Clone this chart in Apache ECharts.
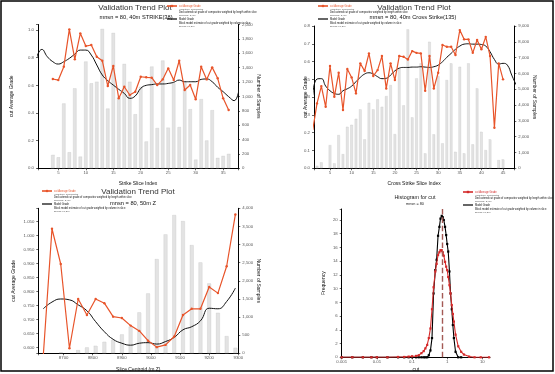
<!DOCTYPE html>
<html><head><meta charset="utf-8">
<script src="https://cdn.jsdelivr.net/npm/echarts@6/dist/echarts.min.js"></script>
<style>html,body{margin:0;padding:0;background:#fff}#c{width:555px;height:374px}</style>
</head><body><div id="c"></div><script>
// ---------- Panel 1: Strike slices ----------
const p1BarIdx = [4,5,6,7,8,9,10,11,12,13,14,15,16,17,18,19,20,21,22,23,24,25,26,27,28,29,30,31,32,33,34,35,36];
const p1Bars = [188,154,903,224,1113,164,1486,1183,1205,1940,832,1884,995,1453,1205,753,1135,374,1416,561,1500,566,1183,575,1205,823,122,963,388,809,146,174,202];
const p1Avg = [0.646,0.638,0.735,1.005,0.788,0.976,0.884,0.892,0.807,0.778,0.595,0.74,0.506,0.59,0.53,0.554,0.662,0.658,0.655,0.602,0.643,0.723,0.638,0.778,0.566,0.602,0.499,0.735,0.643,0.73,0.651,0.506,0.422];
const p1TrendIdx = [1,2,3,4,5,6,7,8,9,10,11,12,13,14,15,16,17,18,19,20,21,22,23,24,25,26,27,28,29,30,31,32,33,34,35,36,37,38];
const p1Trend = [0.795,0.86,0.807,0.771,0.754,0.771,0.795,0.826,0.855,0.855,0.819,0.747,0.675,0.634,0.602,0.571,0.542,0.506,0.523,0.578,0.6,0.605,0.61,0.61,0.614,0.622,0.638,0.626,0.626,0.626,0.643,0.646,0.626,0.586,0.554,0.518,0.489,0.602];

// ---------- Panel 2: Cross strike slices ----------
const p2BarIdx = [2,3,5,6,7,8,9,10,11,12,13,14,15,16,17,18,19,20,21,22,23,24,25,26,27,28,29,30,31,32,33,34,35,36,37,38,39,40,41,42,44,45];
const p2Bars = [164,380,1474,316,2106,904,2631,2758,3137,3731,1834,4149,3731,4364,3896,4573,5268,2169,6325,3985,8791,3226,5692,6641,949,8007,2150,5838,1581,5585,6641,1050,6426,949,6641,1518,5060,2315,1157,1834,525,569];
const p2AvgIdx = [1,2,3,4,5,6,7,8,9,10,11,12,13,14,15,16,17,18,19,20,21,22,23,24,25,26,27,28,29,30,31,32,33,34,35,36,37,38,39,40,41,42,43,44,45];
const p2Avg = [0.215,0.365,0.462,0.346,0.575,0.402,0.537,0.328,0.558,0.511,0.421,0.59,0.547,0.646,0.519,0.552,0.631,0.449,0.59,0.496,0.631,0.627,0.612,0.659,0.649,0.646,0.436,0.631,0.449,0.537,0.693,0.683,0.683,0.637,0.777,0.725,0.725,0.649,0.721,0.669,0.739,0.631,0.228,0.59,0.5];
const p2TrendIdx = [1,2,3,4,5,6,7,8,9,10,11,12,13,14,15,16,17,18,19,20,21,22,23,24,25,26,27,28,29,30,31,32,33,34,35,36,37,38,39,40,41,42,43,44,45,46,47,48];
const p2Trend = [0.41,0.502,0.504,0.462,0.436,0.421,0.416,0.436,0.447,0.462,0.487,0.511,0.53,0.537,0.53,0.515,0.504,0.506,0.524,0.548,0.563,0.567,0.567,0.569,0.569,0.571,0.569,0.567,0.571,0.58,0.599,0.624,0.646,0.669,0.687,0.698,0.7,0.698,0.698,0.696,0.687,0.655,0.612,0.586,0.59,0.58,0.524,0.47];

// ---------- Panel 3: Z slices ----------
const p3X = [8630,8660,8690,8720,8750,8780,8810,8840,8870,8900,8930,8960,8990,9020,9050,9080,9110,9140,9170,9200,9230,9260,9290];
const p3Avg = [0.57,1.025,0.899,0.598,0.774,0.717,0.774,0.759,0.711,0.706,0.679,0.66,0.625,0.602,0.61,0.64,0.717,0.739,0.739,0.817,0.795,0.891,1.076];
const p3Trend = [0.739,0.763,0.774,0.771,0.753,0.732,0.693,0.657,0.63,0.616,0.609,0.616,0.618,0.613,0.622,0.637,0.664,0.675,0.696,0.741,0.739,0.765,0.813];
const p3BarX = [8690,8750,8780,8810,8840,8870,8900,8930,8960,8990,9020,9050,9080,9110,9140,9170,9200,9230,9260,9290];
const p3Bars = [28,91,166,210,320,367,524,734,1131,1655,2601,3283,3815,3650,2988,2510,1931,1120,477,155];

// ---------- Panel 4: Histogram ----------
const histX = [0.001,0.002,0.004,0.007,0.01,0.02,0.04,0.06,0.08,0.1,0.13,0.155,0.185,0.215,0.24,0.27,0.3,0.334,0.37,0.41,0.46,0.5,0.55,0.6,0.645,0.7,0.75,0.8,0.87,0.935,1.0,1.07,1.16,1.245,1.35,1.45,1.55,1.73,2.06,2.5,3.0,4.2,6,9,15.5];
const histRed = [0,0,0,0,0,0,0.05,0.05,0.1,0.15,0.2,0.3,0.6,0.9,1.3,1.8,2.8,4.2,7,10.2,12.5,13.6,14.9,15.3,15.6,15.6,15.3,14.8,13.9,13.2,12.7,11.7,10.5,9.3,7.6,6.3,5.2,3.3,1.6,0.8,0.4,0.1,0,0,0];
const histBlack = [0,0,0,0,0,0,0,0,0,0,0,0,0,0,0,0,0.3,1.0,2.8,9.3,12.7,14.2,17.7,19,20.2,20.6,20.4,20,19,17.8,16.5,15.4,12.5,9.3,7,4.7,2.8,0.8,0,0];
const histMean = 0.72;

const FONT = 'Liberation Sans';
const RED = '#e8542a';
const HRED = '#d42a2a';

function pairs(xs, ys){ return ys.map((v,i)=>[xs[i], v]); }
function fmtStep(step, dec){
  return function(v){
    const k = v/step;
    if (Math.abs(k - Math.round(k)) > 1e-6) return '';
    return dec === null ? String(Math.round(v)) : v.toFixed(dec);
  };
}
const lbl = {fontSize:4.3, color:'#555', fontFamily:FONT};
const nameSt = {fontSize:5, color:'#111', fontFamily:FONT};
const axLine = {show:true, lineStyle:{color:'#000', width:1}};
const tick = {show:true, length:2, lineStyle:{color:'#000', width:0.6}};

function xVal(grid, min, max, step, name, gap){
  return {type:'value', gridIndex:grid, min:min, max:max, minInterval:step, maxInterval:step, splitNumber:8,
    axisLine:axLine, axisTick:tick, splitLine:{show:false},
    axisLabel:Object.assign({margin:3, formatter:fmtStep(step,null)}, lbl),
    name:name, nameLocation:'middle', nameGap:gap, nameTextStyle:nameSt, nameMoveOverlap:false};
}
function yLeft(grid, min, max, step, dec, name, gap){
  return {type:'value', gridIndex:grid, position:'left', min:min, max:max, minInterval:step, maxInterval:step, splitNumber:10,
    axisLine:axLine, axisTick:tick, splitLine:{show:false},
    axisLabel:Object.assign({margin:4, formatter:fmtStep(step,dec)}, lbl),
    name:name, nameLocation:'middle', nameGap:gap, nameTextStyle:nameSt, nameMoveOverlap:false};
}
function yRight(grid, max, step, name, gap){
  return {type:'value', gridIndex:grid, position:'right', min:0, max:max, interval:step,
    axisLine:axLine, axisTick:tick, splitLine:{show:false},
    axisLabel:Object.assign({margin:4}, lbl),
    name:name, nameLocation:'middle', nameGap:gap, nameTextStyle:nameSt, nameRotate:-90, nameMoveOverlap:false};
}
function barSeries(xi, yi, xs, ys, w){
  return {type:'bar', xAxisIndex:xi, yAxisIndex:yi, data:pairs(xs, ys), barWidth:w, silent:true,
    itemStyle:{color:'#e3e3e3', borderColor:'#b9b9b9', borderWidth:0.5, borderType:'dotted'}, z:1};
}
function avgSeries(xi, yi, xs, ys){
  return {type:'line', xAxisIndex:xi, yAxisIndex:yi, data:pairs(xs, ys), symbol:'circle', symbolSize:2.4,
    lineStyle:{color:RED, width:1.2}, itemStyle:{color:RED}, z:4};
}
function trendSeries(xi, yi, xs, ys){
  return {type:'line', xAxisIndex:xi, yAxisIndex:yi, data:pairs(xs, ys), symbol:'none', smooth:0.5,
    lineStyle:{color:'#111', width:1}, z:3};
}

function txt(x, y, s, size, color, align){
  return {type:'text', x:x, y:y, silent:true, style:{text:s, fontSize:size, fontFamily:FONT, fill:color||'#222', align:align||'left', verticalAlign:'middle'}};
}
function legend(x, y, lineColor, sq){
  const el = [];
  el.push({type:'line', silent:true, shape:{x1:x, y1:y, x2:x+10, y2:y}, style:{stroke:lineColor, lineWidth:1.6}});
  if (sq) el.push({type:'rect', silent:true, shape:{x:x+3.8, y:y-1.2, width:2.4, height:2.4}, style:{fill:lineColor}});
  else el.push({type:'circle', silent:true, shape:{cx:x+5, cy:y, r:1.3}, style:{fill:lineColor}});
  el.push(txt(x+12, y, 'cut Average Grade', 2.6, lineColor));
  el.push(txt(x+12, y+3.5, 'Validation: Composites', 2.4, '#555'));
  el.push(txt(x+12, y+6.5, 'Declustered cut grade of composites weighted by length within slice', 2.6, '#111'));
  el.push(txt(x+12, y+9.5, 'Samples: 2,416', 2.4, '#555'));
  el.push({type:'line', silent:true, shape:{x1:x, y1:y+13, x2:x+10, y2:y+13}, style:{stroke:'#000', lineWidth:1.2}});
  el.push(txt(x+12, y+13, 'Model Grade', 2.6, '#111'));
  el.push(txt(x+12, y+17, 'Block model estimate of cut grade weighted by volume in slice', 2.6, '#111'));
  el.push(txt(x+12, y+20.5, 'Blocks: 10,240', 2.4, '#555'));
  return el;
}

const grids = [
  {left:38, top:24.5, width:200, height:143.8},
  {left:314, top:26, width:200.3, height:142.3},
  {left:38.3, top:208.3, width:200, height:145},
  {left:341.7, top:209, width:148.3, height:148.3}
];

const option = {
  animation:false,
  backgroundColor:'#fff',
  grid:grids,
  xAxis:[
    xVal(0, 1.3, 37.7, 5, 'Strike Slice Index', 13),
    xVal(1, 1.3, 47.6, 5, 'Cross Strike Slice Index', 13),
    xVal(2, 8613, 9300, 100, 'Slice Centroid (m Z)', 14),
    {type:'log', gridIndex:3, logBase:10, min:0.001, max:16.5,
     axisLine:axLine, axisTick:tick, splitLine:{show:false}, minorTick:{show:false},
     axisLabel:Object.assign({margin:3, showMaxLabel:false, formatter:function(v){
       const l = Math.log10(v); if (Math.abs(l-Math.round(l))>1e-6) return ''; return String(v);}}, lbl),
     name:'cut', nameLocation:'middle', nameGap:10, nameTextStyle:nameSt, nameMoveOverlap:false}
  ],
  yAxis:[
    yLeft(0, 0, 1.04, 0.2, 1, 'cut Average Grade', 24),
    yRight(0, 2000, 200, 'Number of Samples', 18),
    yLeft(1, 0, 0.8, 0.1, 1, 'cut Average Grade', 6),
    yRight(1, 9000, 1000, 'Number of Samples', 18),
    yLeft(2, 0.58, 1.098, 0.05, 3, 'cut Average Grade', 22),
    yRight(2, 4000, 500, 'Number of Samples', 18),
    yLeft(3, 0, 21.6, 2, null, 'Frequency', 16)
  ],
  series:[
    barSeries(0, 1, p1BarIdx, p1Bars, 3.6),
    trendSeries(0, 0, p1TrendIdx, p1Trend),
    avgSeries(0, 0, p1BarIdx, p1Avg),
    barSeries(1, 3, p2BarIdx, p2Bars, 2.8),
    trendSeries(1, 2, p2TrendIdx, p2Trend),
    avgSeries(1, 2, p2AvgIdx, p2Avg),
    barSeries(2, 5, p3BarX, p3Bars, 4),
    trendSeries(2, 4, p3X, p3Trend),
    avgSeries(2, 4, p3X, p3Avg),
    {type:'line', xAxisIndex:3, yAxisIndex:6, data:pairs(histX, histBlack), symbol:'rect', symbolSize:2.2,
     lineStyle:{color:'#000', width:1.1}, itemStyle:{color:'#000'}, z:3},
    {type:'line', xAxisIndex:3, yAxisIndex:6, data:pairs(histX, histRed), symbol:'rect', symbolSize:2.2,
     lineStyle:{color:HRED, width:1.1}, itemStyle:{color:HRED}, z:4,
     markLine:{silent:true, symbol:'none', label:{show:false},
       lineStyle:{color:'#a45a55', type:'dashed', width:1.4}, data:[{xAxis:histMean}]}}
  ],
  graphic:[
    {type:'rect', silent:true, shape:{x:1, y:1, width:552, height:370}, style:{fill:'none', stroke:'#000', lineWidth:1.5}},
    txt(135, 7.5, 'Validation Trend Plot', 8, '#333', 'center'),
    txt(136, 17.5, 'mnsn = 80, 40m STRIKE(38)', 5.7, '#111', 'center'),
    txt(414, 7.5, 'Validation Trend Plot', 8, '#333', 'center'),
    txt(413, 17.5, 'mnsn = 80, 40m Cross Strike(135)', 5.7, '#111', 'center'),
    txt(138, 192, 'Validation Trend Plot', 8, '#333', 'center'),
    txt(133, 203.5, 'mnsn = 80, 50m Z', 5.7, '#111', 'center'),
    txt(415, 197.3, 'Histogram for cut', 5.4, '#222', 'center'),
    txt(415, 203.5, 'mnsn = 80', 3.8, '#222', 'center')
  ].concat(legend(167, 6, RED, false))
   .concat(legend(318, 6, RED, false))
   .concat(legend(42, 191, RED, false))
   .concat(legend(463, 192, HRED, true))
};
const chart = echarts.init(document.getElementById('c'), null, {renderer:'canvas'});
chart.setOption(option);
</script></body></html>
